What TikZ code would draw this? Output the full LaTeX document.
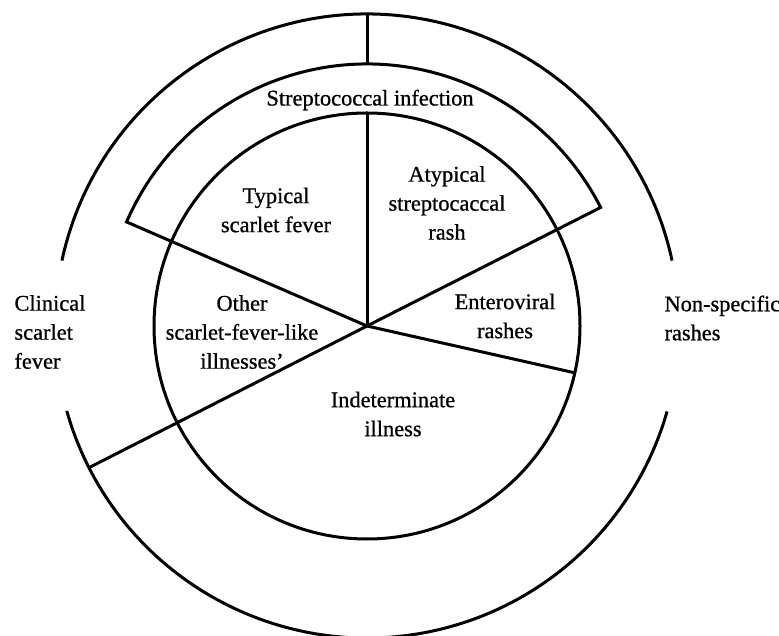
\documentclass[tikz,border=0pt]{standalone}
\usepackage{fontspec}
\setmainfont{Liberation Serif}[FakeBold=0.8]
\begin{document}
\begin{tikzpicture}[line width=1.5pt,
  lbl/.style={align=center, inner sep=0pt, font=\fontsize{11.2pt}{14.5pt}\selectfont}]
\useasboundingbox (-183.5pt,-154.5pt) rectangle (206pt,163pt);
\coordinate (o) at (0pt,0pt);
\draw (o) circle (106.5pt);
\draw (167.9:156pt) arc (167.9:12.1:156pt);
\draw (195.8:156pt) arc (195.8:344.1:156pt);
\draw (o) -- (156.6:131pt) arc (156.6:26.9:131pt) -- cycle;
\draw (o) -- (90:106.5pt);
\draw (90:131pt) -- (90:156pt);
\draw (o) -- (207:156pt);
\draw (o) -- (-12.7:106.5pt);
\node[lbl] (strep) at (1.5pt,113pt) {Streptococcal infection};
\node[lbl] (typical) at (-45.5pt,58pt) {Typical\\scarlet fever};
\node[lbl] (atypical) at (40pt,61.5pt) {Atypical\\streptocaccal\\rash};
\node[lbl] (other) at (-62.5pt,-3pt) {Other\\scarlet-fever-like\\illnesses'};
\node[lbl] (entero) at (69pt,5pt) {Enteroviral\\rashes};
\node[lbl] (indet) at (13pt,-44pt) {Indeterminate\\illness};
\node[lbl, align=left, anchor=west] (clinical) at (-177pt,-3pt) {Clinical\\scarlet\\fever};
\node[lbl, align=left, anchor=west] (nonspec) at (148pt,4pt) {Non-specific\\rashes};
\end{tikzpicture}
\end{document}
